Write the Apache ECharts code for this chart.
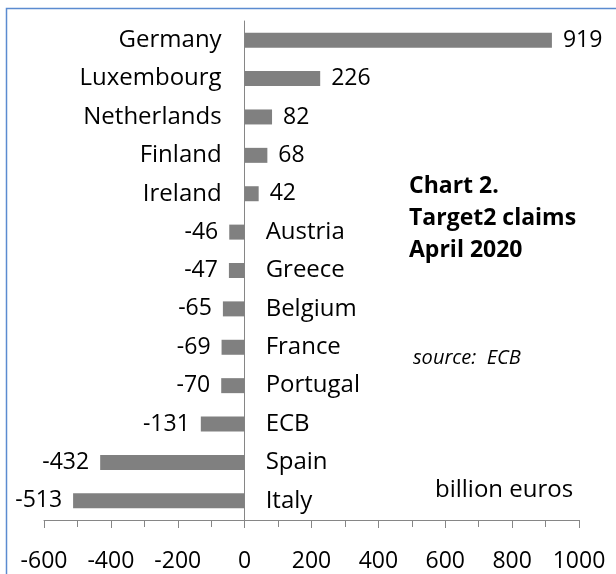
<!DOCTYPE html>
<html>
<head>
<meta charset="utf-8">
<script src="https://cdn.jsdelivr.net/npm/echarts@6/dist/echarts.min.js"></script>
<style>
  html, body { margin: 0; padding: 0; background: #fff; }
  #chart { width: 616px; height: 574px; }
</style>
</head>
<body>
<div id="chart"></div>
<script>
// Target2 balances, April 2020 (billion euros)
const countries = ['Germany', 'Luxembourg', 'Netherlands', 'Finland', 'Ireland', 'Austria',
  'Greece', 'Belgium', 'France', 'Portugal', 'ECB', 'Spain', 'Italy'];
const claims = [919, 226, 82, 68, 42, -46, -47, -65, -69, -70, -131, -432, -513];
const xTicks = [-600, -400, -200, 0, 200, 400, 600, 800, 1000];

const FONT = '"Open Sans", "Noto Sans", sans-serif';
const chart = echarts.init(document.getElementById('chart'));

// value labels sit at the bar end, names sit on the other side of the zero line
const barData = claims.map((v) => ({
  value: v,
  label: { position: v >= 0 ? 'right' : 'left' }
}));
const nameData = claims.map((v) => ({
  value: v,
  label: { position: v >= 0 ? 'left' : 'right', distance: v >= 0 ? 23 : 21 }
}));

const options = {
  animation: false,
  grid: { left: 44, right: 37, top: 21, bottom: 54 },
  xAxis: {
    type: 'value',
    min: xTicks[0],
    max: xTicks[xTicks.length - 1],
    interval: 200,
    splitLine: { show: false },
    axisLine: { show: true, lineStyle: { color: '#868686', width: 1 } },
    axisTick: { show: true, length: 8, lineStyle: { color: '#868686' } },
    minorTick: { show: true, splitNumber: 2, length: 7, lineStyle: { color: '#868686' } },
    axisLabel: { fontFamily: FONT, fontSize: 23, color: '#000', margin: 30,
      formatter: (v) => String(v) }
  },
  yAxis: {
    type: 'category',
    data: countries,
    inverse: true,
    axisLine: { show: true, onZero: true, lineStyle: { color: '#868686', width: 1 } },
    axisTick: { show: false },
    axisLabel: { show: false }
  },
  series: [
    {
      type: 'bar',
      data: barData,
      barWidth: 15,
      itemStyle: { color: '#808080' },
      label: { show: true, fontFamily: FONT, fontSize: 23, color: '#000', distance: 11 }
    },
    {
      type: 'bar',
      data: nameData,
      barWidth: 15,
      barGap: '-100%',
      itemStyle: { color: 'rgba(0,0,0,0)' },
      silent: true,
      label: {
        show: true, fontFamily: FONT, fontSize: 24, color: '#000',
        formatter: (p) => countries[p.dataIndex]
      }
    }
  ],
  graphic: [
    { type: 'rect', shape: { x: 6.5, y: 8.5, width: 800, height: 800 },
      style: { fill: 'none', stroke: '#5b8bd0', lineWidth: 1.5 }, silent: true },
    { type: 'text', left: 409, top: 170,
      style: { text: 'Chart 2.\nTarget2 claims\nApril 2020', font: 'bold 23px ' + FONT,
        lineHeight: 32, fill: '#000' } },
    { type: 'text', left: 413, top: 348,
      style: { text: 'source:  ECB', font: 'italic 20px ' + FONT, fill: '#000' } },
    { type: 'text', left: 435, top: 478,
      style: { text: 'billion euros', font: '24px ' + FONT, fill: '#000' } }
  ]
};

chart.setOption(options);
</script>
</body>
</html>
